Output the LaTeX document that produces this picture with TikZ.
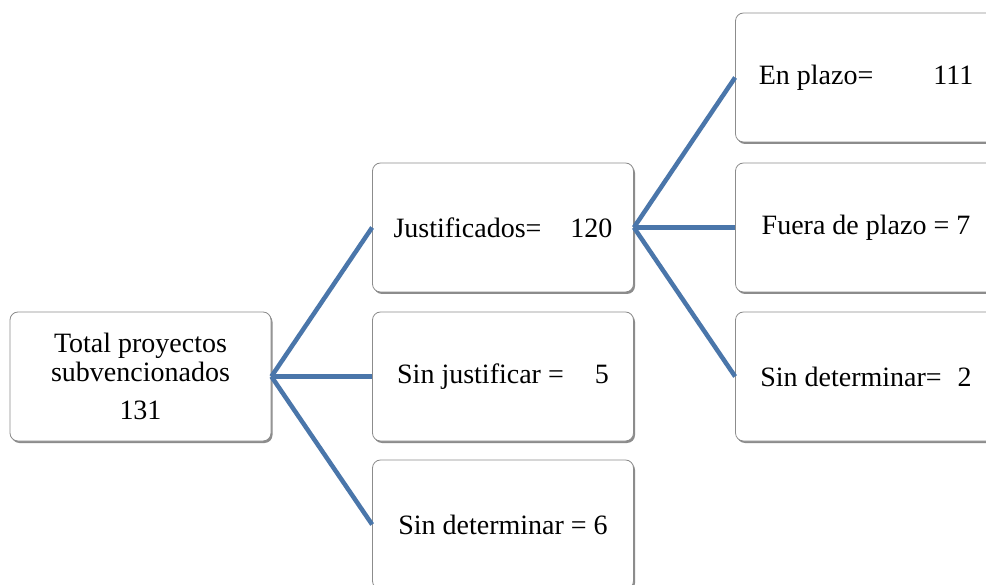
\documentclass[tikz,border=0pt]{standalone}
\usepackage{fontspec}
\setmainfont{Liberation Serif}
\usetikzlibrary{shadows}
\definecolor{linkblue}{RGB}{74,118,170}
\definecolor{boxline}{RGB}{140,140,140}
\begin{document}
\begin{tikzpicture}[x=1pt,y=-1pt,
  box/.style={draw=boxline, line width=0.8pt, fill=white, rounded corners=8pt,
    minimum width=261pt, minimum height=129pt, inner sep=0pt, align=center,
    font=\fontsize{28}{29}\selectfont,
    drop shadow={shadow xshift=1.5pt, shadow yshift=-2pt, fill=black!45, opacity=1}},
  link/.style={draw=linkblue, line width=4.5pt}]
\useasboundingbox (0,0) rectangle (986,585);
\fill[white] (0,0) rectangle (986,585);
% root
\node[box] (root) at (140.5,376.5) {Total proyectos\\subvencionados\\[9pt]131};
% middle column
\node[box] (just) at (503,227.5) {Justificados=\hspace{29pt}120};
\node[box] (sinj) at (503,376.5) {Sin justificar =\hspace{31pt}5};
\node[box] (sind) at (503,524.5) {Sin determinar = 6};
% right column
\node[box] (plazo) at (866,77.5) {En plazo=\hspace{60pt}111};
\node[box] (fuera) at (866,227.5) {Fuera de plazo = 7};
\node[box] (rsind) at (866,376.5) {Sin determinar=\hspace{16pt}2};
% connectors
\draw[link] (root.east) -- (just.west);
\draw[link] (root.east) -- (sinj.west);
\draw[link] (root.east) -- (sind.west);
\draw[link] (just.east) -- (plazo.west);
\draw[link] (just.east) -- (fuera.west);
\draw[link] (just.east) -- (rsind.west);
\end{tikzpicture}
\end{document}
